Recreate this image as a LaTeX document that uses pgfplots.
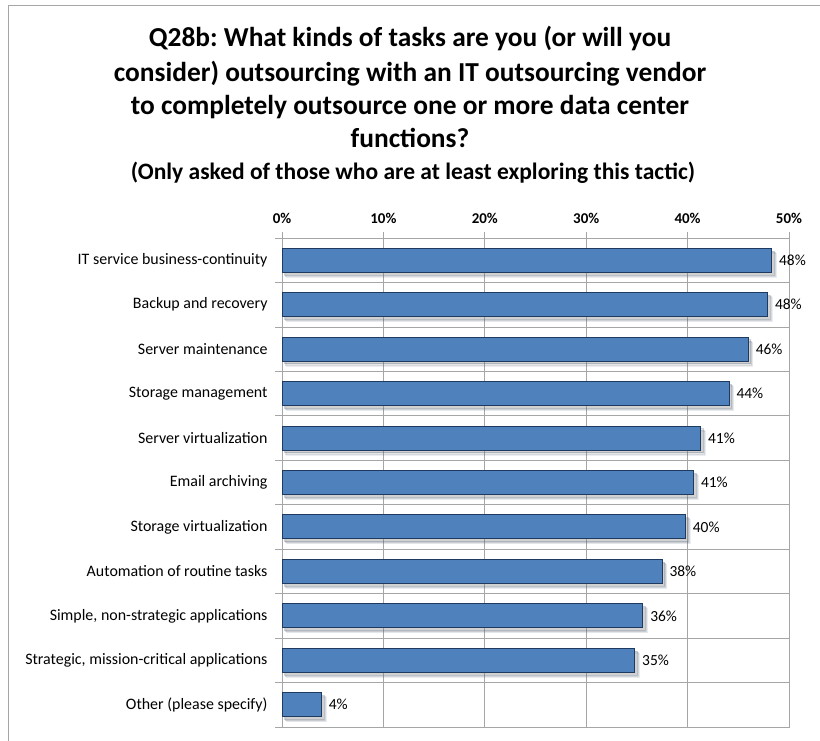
\documentclass[border=0pt]{standalone}
\usepackage{fontspec}
\setmainfont{Carlito}
\usepackage{pgfplots}
\usepackage{pgfplotstable}
\pgfplotsset{compat=1.18}
\usetikzlibrary{shadows}
\definecolor{barblue}{HTML}{4F81BD}
\definecolor{baredge}{HTML}{1F3A60}
\definecolor{gridgray}{HTML}{A6A6A6}
\pgfplotstableread[col sep=comma]{
y,x,lab
0,48.3,48
1,47.9,48
2,46.0,46
3,44.1,44
4,41.3,41
5,40.6,41
6,39.8,40
7,37.5,38
8,35.6,36
9,34.8,35
10,3.9,4
}\datatable
\begin{document}
\frenchspacing
\begin{tikzpicture}[x=1bp,y=1bp]
\useasboundingbox (0,0) rectangle (820,-741);
\draw[gridgray, line width=1bp] (8.5,-741) -- (8.5,-5.5) -- (820,-5.5);
\begin{scope}[every node/.style={anchor=base, inner sep=0pt, font=\bfseries\fontsize{27.5}{33}\selectfont}]
\node at (410,-47) {Q28b: What kinds of tasks are you (or will you};
\node at (410,-81.5) {consider) outsourcing with an IT outsourcing vendor};
\node at (410,-114.5) {to completely outsource one or more data center};
\node at (410,-147.5) {functions?};
\node[font=\bfseries\fontsize{23.6}{28}\selectfont] at (413,-179) {(Only asked of those who are at least exploring this tactic)};
\end{scope}
\begin{axis}[
  at={(282bp,-727bp)}, anchor=south west,
  scale only axis, width=507bp, height=489bp,
  xbar, bar width=24bp,
  xmin=0, xmax=50, ymin=-0.5, ymax=10.5, y dir=reverse,
  xtick={0,10,20,30,40,50},
  xticklabels={0\%,10\%,20\%,30\%,40\%,50\%},
  xticklabel pos=upper, xtick pos=upper,
  xticklabel style={font=\bfseries\fontsize{15}{17}\selectfont, yshift=5bp},
  ytick={0,1,2,3,4,5,6,7,8,9,10},
  yticklabels={IT service business-continuity,Backup and recovery,Server maintenance,Storage management,Server virtualization,Email archiving,Storage virtualization,Automation of routine tasks,{Simple, non-strategic applications},{Strategic, mission-critical applications},Other (please specify)},
  yticklabel style={font=\fontsize{16}{18}\selectfont, xshift=-5bp},
  minor ytick={-0.5,0.5,...,10.5},
  ytick pos=left,
  every major y tick/.append style={draw=none},
  tick align=outside,
  major tick length=6bp, minor tick length=7bp,
  xmajorgrids, yminorgrids,
  grid style={gridgray, line width=0.8bp},
  axis line style={gridgray, line width=0.8bp},
  tick style={gridgray, line width=0.8bp},
  point meta=explicit symbolic,
  nodes near coords={\pgfplotspointmeta\%},
  nodes near coords style={font=\fontsize{15.5}{17}\selectfont, text=black, anchor=west, xshift=3.5bp},
]
\addplot[fill=barblue, draw=baredge, line width=1bp,
  drop shadow={shadow xshift=4.5bp, shadow yshift=-5bp, opacity=0.08},
  drop shadow={shadow xshift=3.5bp, shadow yshift=-4bp, opacity=0.14},
  drop shadow={shadow xshift=2.5bp, shadow yshift=-2.8bp, opacity=0.2}]
  table[x=x, y=y, meta=lab] {\datatable};
\end{axis}
\end{tikzpicture}
\end{document}
